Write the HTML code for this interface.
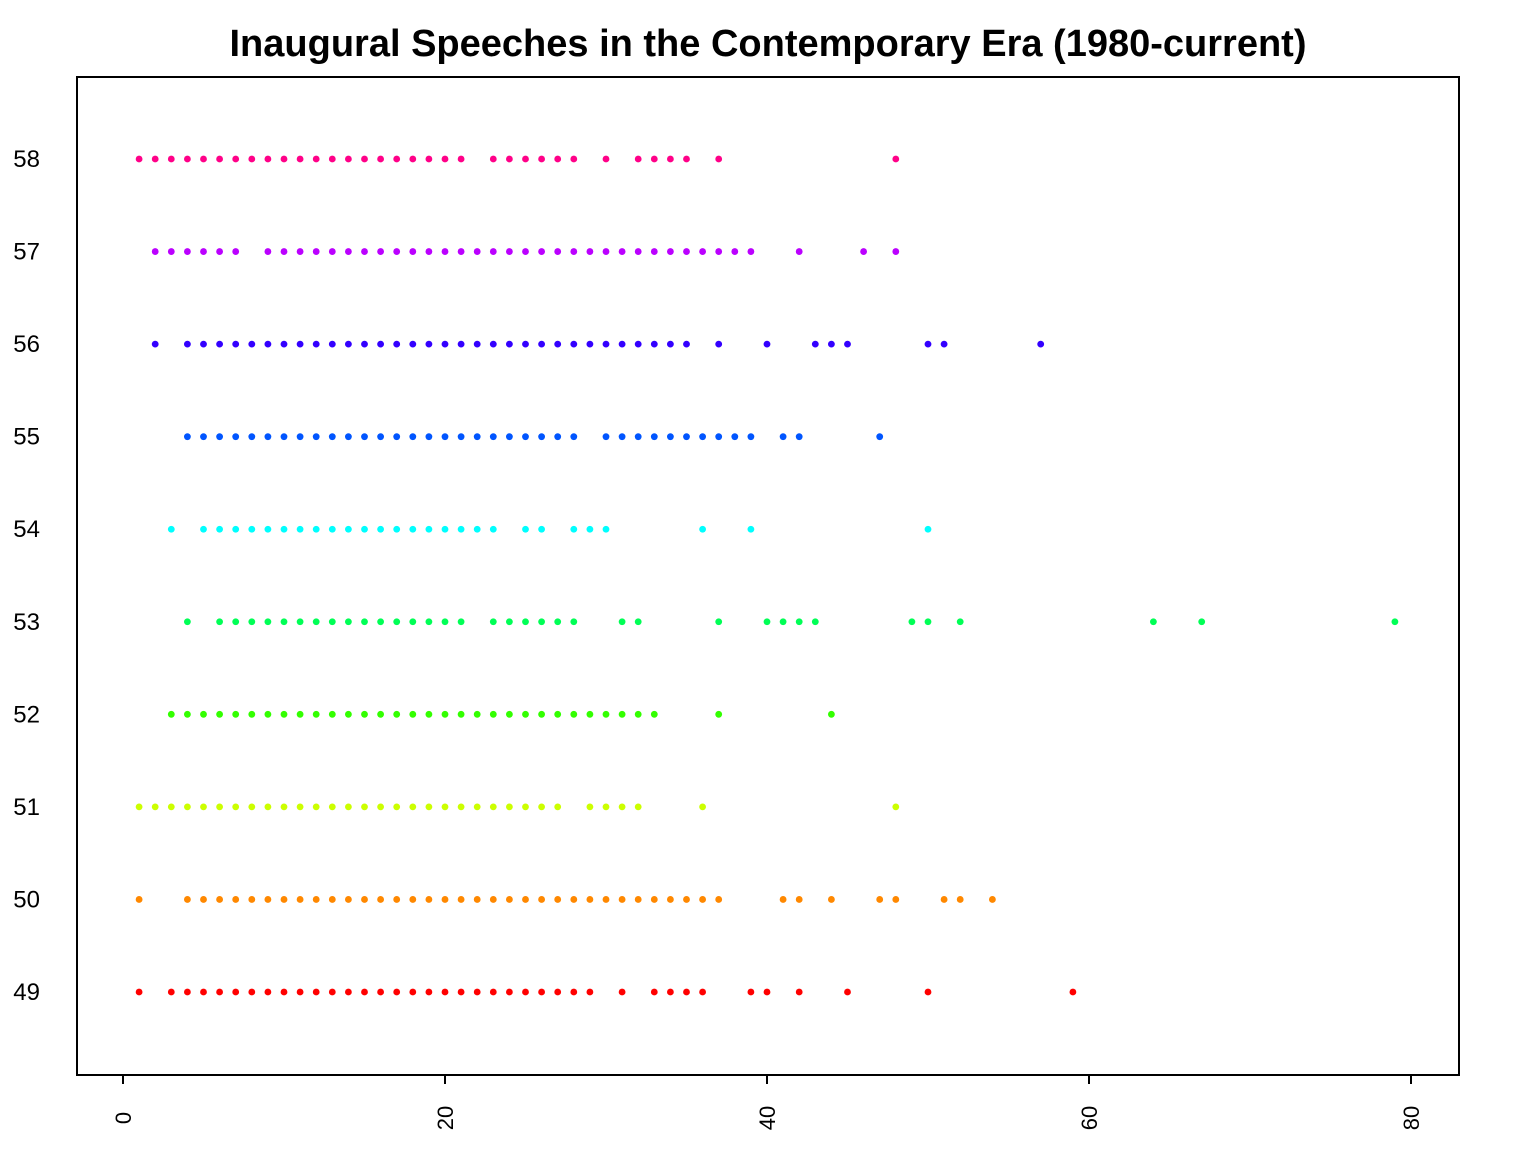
<!DOCTYPE html>
<html><head><meta charset="utf-8"><style>
body{margin:0;background:#fff}
svg{display:block;font-family:"Liberation Sans",Arial,sans-serif}
</style></head><body>
<svg id="chart" width="1536" height="1152">
<rect x="0" y="0" width="1536" height="1152" fill="#fff"/>
<text x="768" y="56" text-anchor="middle" font-size="38" font-weight="bold">Inaugural Speeches in the Contemporary Era (1980-current)</text>
<rect x="77" y="77" width="1382" height="998" fill="none" stroke="#000" stroke-width="2"/>
<g id="xaxis"></g>
<g id="yaxis"></g>
<g id="points"></g>
</svg>
<script>
function range(a,b){var r=[];for(var i=a;i<=b;i++)r.push(i);return r;}
const congresses=[49,50,51,52,53,54,55,56,57,58];
const rowColors=["#FF0000","#FF8800","#CCFF00","#33FF00","#00FF55","#00FFFF","#0055FF","#3300FF","#BB00FF","#FF0088"];
const values49=[1].concat(range(3,29),[31,33,34,35,36,39,40,42,45,50,59]);
const values50=[1].concat(range(4,37),[41,42,44,47,48,51,52,54]);
const values51=range(1,27).concat([29,30,31,32,36,48]);
const values52=range(3,33).concat([37,44]);
const values53=[4].concat(range(6,21),[23,24,25,26,27,28,31,32,37,40,41,42,43,49,50,52,64,67,79]);
const values54=[3].concat(range(5,23),[25,26,28,29,30,36,39,50]);
const values55=range(4,28).concat(range(30,39),[41,42,47]);
const values56=[2].concat(range(4,35),[37,40,43,44,45,50,51,57]);
const values57=range(2,7).concat(range(9,39),[42,46,48]);
const values58=range(1,21).concat([23,24,25,26,27,28,30,32,33,34,35,37,48]);
const rows=[values49,values50,values51,values52,values53,values54,values55,values56,values57,values58];
const xTicks=[0,20,40,60,80];

const NS="http://www.w3.org/2000/svg";
function xs(v){return 123+v*(1411-123)/80;}
function ys(v){return 992-(v-49)*(992-159)/9;}
function mk(t,a,p){var e=document.createElementNS(NS,t);for(var k in a)e.setAttribute(k,a[k]);p.appendChild(e);return e;}
var xa=document.getElementById('xaxis'),ya=document.getElementById('yaxis'),pg=document.getElementById('points');
mk('line',{x1:xs(0),x2:xs(80),y1:1075,y2:1075,stroke:'#000','stroke-width':2},xa);
xTicks.forEach(function(t){
  var l=mk('line',{x1:xs(t),x2:xs(t),y1:1075,y2:1084,stroke:'#000','stroke-width':2},xa);
  
  
  var tx=mk('text',{x:xs(t)+8,y:1118,'font-size':22,'text-anchor':'middle',transform:'rotate(-90 '+(xs(t)+8)+' 1118)'},xa);
  tx.textContent=t;
  
  
});
congresses.forEach(function(c,i){
  var tx=mk('text',{x:40,y:ys(c)+8,'font-size':24,'text-anchor':'end'},ya);
  tx.textContent=c;
  
  
  rows[i].forEach(function(v){
    var p=mk('circle',{cx:xs(v),cy:ys(c),r:3.4,fill:rowColors[i]},pg);
    
    
  });
});
</script>
</body></html>
